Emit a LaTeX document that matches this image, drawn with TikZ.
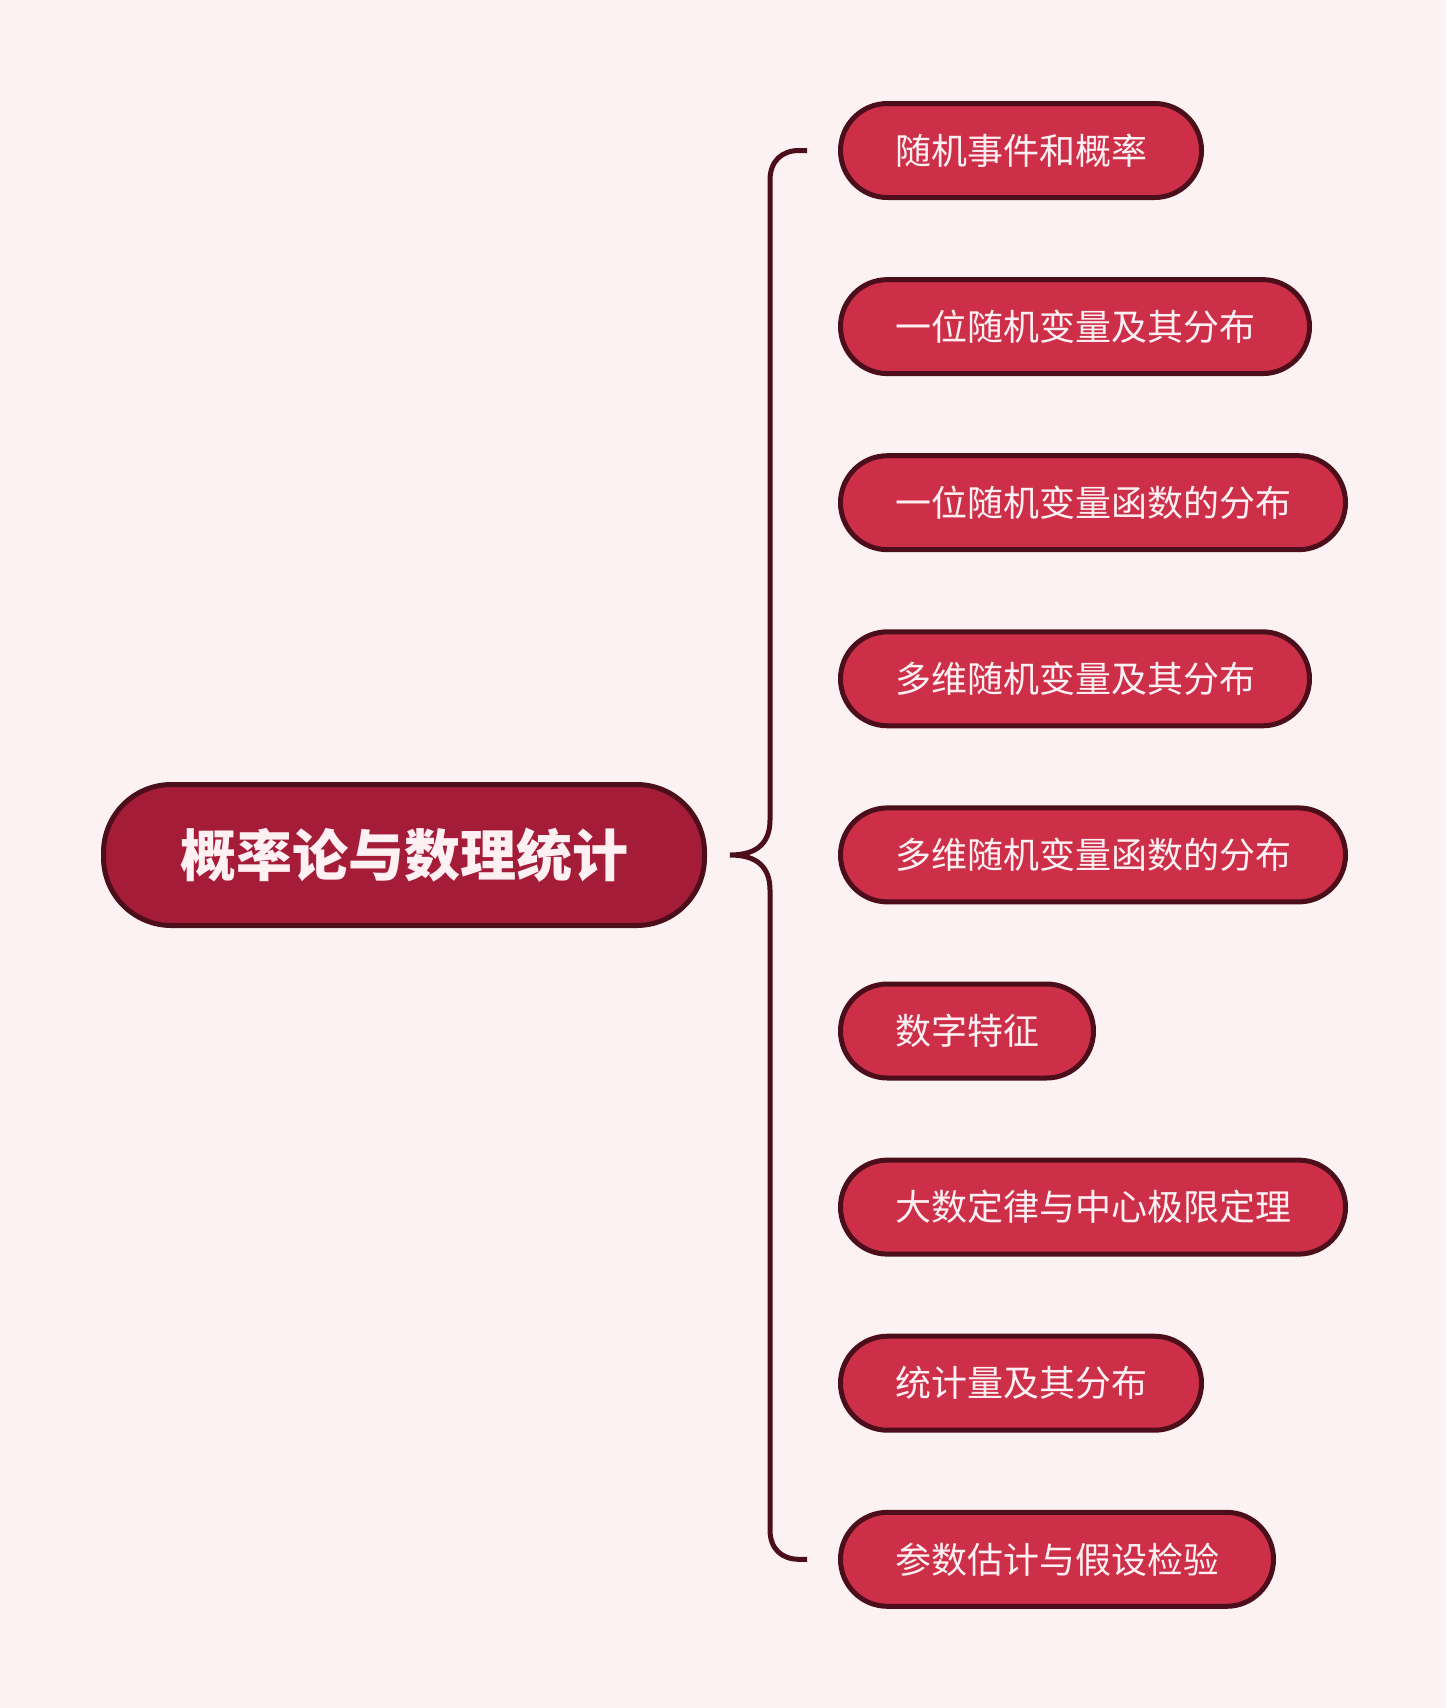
\documentclass[tikz,border=0pt]{standalone}
\usepackage{fontspec}
\setmainfont{Noto Sans CJK SC}
\definecolor{bgc}{HTML}{FCF2F4}
\definecolor{childfill}{HTML}{CE2F48}
\definecolor{rootfill}{HTML}{A51C38}
\definecolor{edgec}{HTML}{4B0E1A}
\definecolor{txtc}{HTML}{FFF0F3}
\begin{document}
\begin{tikzpicture}[x=1pt,y=-1pt,
  childbox/.style={draw=edgec, line width=5pt, fill=childfill, text=txtc,
    rounded corners=47pt, minimum height=94pt, inner xsep=54.5pt, inner ysep=0pt,
    anchor=west, font=\fontsize{36}{36}\selectfont},
  rootbox/.style={draw=edgec, line width=5pt, fill=rootfill, text=txtc,
    rounded corners=68pt, minimum width=601pt, minimum height=141pt, inner sep=0pt,
    font=\fontsize{56}{56}\selectfont\bfseries},
  brace/.style={draw=edgec, line width=5pt}]
\fill[bgc] (0,0) rectangle (1446,1708);
\useasboundingbox (0,0) rectangle (1446,1708);
\node[rootbox] (root) at (404,855) {概率论与数理统计};
\node[childbox] (c1) at (838,150.5) {随机事件和概率};
\node[childbox] (c2) at (838,326.6) {一位随机变量及其分布};
\node[childbox] (c3) at (838,502.7) {一位随机变量函数的分布};
\node[childbox] (c4) at (838,678.8) {多维随机变量及其分布};
\node[childbox] (c5) at (838,854.9) {多维随机变量函数的分布};
\node[childbox] (c6) at (838,1031) {数字特征};
\node[childbox] (c7) at (838,1207.1) {大数定律与中心极限定理};
\node[childbox] (c8) at (838,1383.2) {统计量及其分布};
\node[childbox] (c9) at (838,1559.3) {参数估计与假设检验};
\coordinate (tip) at (730,855);
\coordinate (topend) at (807,150.5);
\coordinate (botend) at (807,1559.3);
\draw[brace] (topend) -- (799,150.5) .. controls (782,150.5) and (770,161) .. (770,180)
  -- (770,820) .. controls (770,842) and (758,855) .. (tip)
  .. controls (758,855) and (770,868) .. (770,890)
  -- (770,1530) .. controls (770,1549) and (782,1559.3) .. (799,1559.3) -- (botend);
\end{tikzpicture}
\end{document}
